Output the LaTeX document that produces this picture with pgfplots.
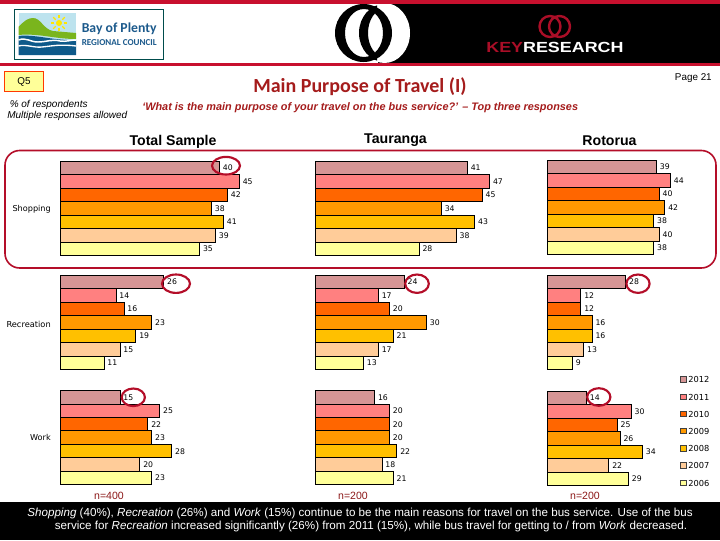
\documentclass[border=0pt]{standalone}
\usepackage{fontspec}
\setmainfont{Liberation Sans}
\newfontfamily\calib{Carlito}
\newfontfamily\veri{DejaVu Sans}
\usepackage{pgfplots}
\pgfplotsset{compat=1.18}

\definecolor{y2012}{HTML}{D69595}
\definecolor{y2011}{HTML}{FF8080}
\definecolor{y2010}{HTML}{FF6600}
\definecolor{y2009}{HTML}{FF9900}
\definecolor{y2008}{HTML}{FFC000}
\definecolor{y2007}{HTML}{FFCC99}
\definecolor{y2006}{HTML}{FFFF99}
\definecolor{kred}{HTML}{C8102E}
\definecolor{dred}{HTML}{A51C1C}
\definecolor{bopblue}{HTML}{1C5A8C}
\definecolor{bopsea}{HTML}{0E5A8A}
\definecolor{bopgreen}{HTML}{7AB51D}
\definecolor{bopsky}{HTML}{BDE3EE}

\newcommand{\fs}[1]{\fontsize{#1}{#1}\selectfont}

% 1 px of the reference = 0.75pt here
\pgfplotsset{
  panel/.style={
    scale only axis, hide axis, clip=false,
    xbar=0pt, /pgf/bar shift=0pt, bar width=1,
    height=70.8pt,
    xmin=0, xmax=50, ymin=-0.5, ymax=6.5, y dir=reverse,
    anchor=north west,
    every axis plot/.append style={draw=black, line width=0.7pt},
    nodes near coords, point meta=x,
    /pgf/number format/assume math mode=true,
    every node near coord/.style={font=\veri\fs{5.8}, anchor=west, inner sep=2.2pt, text=black},
  },
  total/.style={panel, width=149.25pt},
  taur/.style={panel, width=139.1pt},
  roto/.style={panel, width=105pt},
}
% #1 options, #2..#8 values 2012 down to 2006
\newcommand{\panel}[8]{%
  \begin{axis}[#1]
    \addplot[fill=y2012] coordinates {(#2,0)};
    \addplot[fill=y2011] coordinates {(#3,1)};
    \addplot[fill=y2010] coordinates {(#4,2)};
    \addplot[fill=y2009] coordinates {(#5,3)};
    \addplot[fill=y2008] coordinates {(#6,4)};
    \addplot[fill=y2007] coordinates {(#7,5)};
    \addplot[fill=y2006] coordinates {(#8,6)};
  \end{axis}}

\begin{document}
\begin{tikzpicture}[x=0.75pt,y=-0.75pt]
\path[use as bounding box] (0,0) rectangle (720,540);
\fill[white] (0,0) rectangle (720,540);

% header
\fill[black] (378,4) rectangle (720,63);
\fill[white] (384.5,33) ellipse (25.5 and 30);
\fill[kred] (0,0) rectangle (720,4);
\fill[kred] (0,63) rectangle (720,65.5);
\fill[black,even odd rule] (363.5,33) ellipse (28.5 and 29) (364,33) ellipse (19 and 24);
\begin{scope}
  \clip (350,0) rectangle (377,63);
  \fill[black,even odd rule] (384.5,33) ellipse (25.5 and 29) (384.5,33) ellipse (16.5 and 24);
\end{scope}
\draw[kred!85!black,line width=1.8pt] (550,26.5) ellipse (10.5 and 10.5) (559.5,26.5) ellipse (10.5 and 10.5);
\node[anchor=west,inner sep=0,xscale=1.22,font=\bfseries\fs{11}] at (486,47)
  {\textcolor{kred!85!black}{KEY}\textcolor{white}{RESEARCH}};

% regional council logo
\draw[fill=white,draw=black!40!teal,line width=0.7pt] (14.5,9.5) rectangle (163,59);
\fill[bopsky] (18.5,13) rectangle (76,55);
\fill[bopgreen] (18.5,27) .. controls (24,21) and (28,18) .. (33,18)
  .. controls (41,18) and (43,29) .. (53,31) -- (76,33) -- (76,39)
  .. controls (55,39) and (38,33) .. (18.5,35) -- cycle;
\fill[bopsea] (18.5,36) .. controls (35,34) and (55,41) .. (76,40) -- (76,55) -- (18.5,55) -- cycle;
\draw[white,line width=1.1pt] (18.5,40) .. controls (26,37) and (30,42) .. (38,42) .. controls (46,42) and (52,39) .. (60,41) .. controls (66,42) and (70,40) .. (76,40);
\draw[white,line width=1pt] (18.5,46) .. controls (26,44) and (34,48) .. (42,47) .. controls (52,46) and (60,44) .. (76,46);
\fill[yellow!90!orange] (59,23) circle (3);
\foreach \a in {0,45,...,315} \draw[yellow!90!orange,line width=0.9pt] (59,23) ++(\a:4.6) -- ++(\a:3.6);
\node[anchor=west,inner sep=0,text=bopblue,font=\calib\bfseries\fs{10.3}] at (81.5,28.5) {Bay of Plenty};
\node[anchor=west,inner sep=0,text=bopblue,font=\calib\bfseries\fs{6.8}] at (81.5,42.6) {REGIONAL COUNCIL};

% headings
\draw[fill=y2006,draw=orange!45!red,line width=0.7pt] (4.5,71.5) rectangle (43.5,91.5);
\node[font=\fs{7.4}] at (24,81.5) {Q5};
\node[font=\calib\bfseries\fs{15},text=dred] at (360,87) {Main Purpose of Travel (I)};
\node[anchor=east,inner sep=0,font=\fs{7.4}] at (712,78) {Page 21};
\node[anchor=west,inner sep=0,font=\itshape\fs{7.5}] at (9.5,104.5) {\% of respondents};
\node[anchor=west,inner sep=0,font=\itshape\fs{7.5}] at (7,115.5) {Multiple responses allowed};
\node[anchor=west,inner sep=0,font=\bfseries\itshape\fs{8.17},text=dred] at (142,108)
  {‘What is the main purpose of your travel on the bus service?’ – Top three responses};
\node[font=\bfseries\fs{10.6}] at (173,142) {Total Sample};
\node[font=\bfseries\fs{10.6}] at (395.5,140) {Tauranga};
\node[font=\bfseries\fs{10.6}] at (609.5,141) {Rotorua};

% Shopping
\panel{total, at={(60.3*0.75pt,-161.3*0.75pt)}}{40}{45}{42}{38}{41}{39}{35}
\panel{taur, at={(315.3*0.75pt,-161.3*0.75pt)}}{41}{47}{45}{34}{43}{38}{28}
\panel{roto, at={(547.3*0.75pt,-160.3*0.75pt)}}{39}{44}{40}{42}{38}{40}{38}
% Recreation
\panel{total, at={(60.3*0.75pt,-275.3*0.75pt)}}{26}{14}{16}{23}{19}{15}{11}
\panel{taur, at={(315.3*0.75pt,-275.3*0.75pt)}}{24}{17}{20}{30}{21}{17}{13}
\panel{roto, at={(547.3*0.75pt,-275.3*0.75pt)}}{28}{12}{12}{16}{16}{13}{9}
% Work
\panel{total, at={(60.3*0.75pt,-390.5*0.75pt)}}{15}{25}{22}{23}{28}{20}{23}
\panel{taur, at={(315.3*0.75pt,-390.5*0.75pt)}}{16}{20}{20}{20}{22}{18}{21}
\panel{roto, at={(547.3*0.75pt,-391.3*0.75pt)},
  legend entries={2012,2011,2010,2009,2008,2007,2006},
  legend image code/.code={\draw[#1,draw=black!75,line width=0.6pt] (0pt,-2pt) rectangle (4pt,2pt);},
  legend style={at={(0.948,1.163)}, anchor=north west, draw=none, fill=none, inner sep=0pt,
    row sep=7.9pt, font=\veri\fs{6.2},
    nodes={inner sep=0pt, text height=5pt, text depth=0pt, text width=16pt},
    column sep=1.5pt}
  }{14}{30}{25}{26}{34}{22}{29}

% category labels
\node[anchor=east,inner sep=0,font=\veri\fs{6.1}] at (51,209) {Shopping};
\node[anchor=east,inner sep=0,font=\veri\fs{6.2}] at (51,324) {Recreation};
\node[anchor=east,inner sep=0,font=\veri\fs{6.1}] at (51,437.5) {Work};

% highlight outline and rings
\draw[kred!90!black,line width=1.2pt,rounded corners=11pt] (5,150.5) rectangle (716,268);
\begin{scope}[kred!90!black,line width=1.6pt]
  \draw (226,165.7) ellipse (14 and 8.8);
  \draw (176,283.7) ellipse (14 and 9.2);
  \draw (133.3,397.3) ellipse (11.6 and 8.8);
  \draw (417,283.7) ellipse (11.8 and 9.2);
  \draw (638,283.7) ellipse (11.6 and 9.2);
  \draw (598.8,397) ellipse (11.6 and 8.8);
\end{scope}

% sample sizes
\node[font=\fs{7.9},text=dred!85!black] at (109,495.5) {n=400};
\node[font=\fs{7.9},text=dred!85!black] at (353,495.5) {n=200};
\node[font=\fs{7.9},text=dred!85!black] at (585,495.5) {n=200};

% bottom band
\fill[black] (0,502) rectangle (720,540);
\node[text=white,font=\fs{8.72}] at (360,513.3) {\textit{Shopping} (40\%), \textit{Recreation} (26\%) and \textit{Work} (15\%) continue to be the main reasons for travel on the bus service. Use of the bus};
\node[text=white,font=\fs{8.72}] at (371,526) {service for \textit{Recreation} increased significantly (26\%) from 2011 (15\%), while bus travel for getting to / from \textit{Work} decreased.};
\end{tikzpicture}
\end{document}
